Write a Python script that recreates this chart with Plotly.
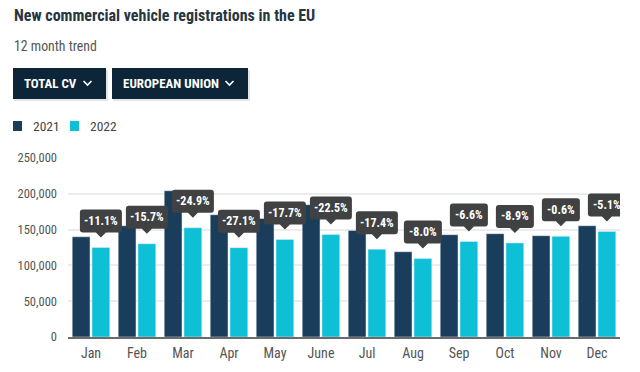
import plotly.graph_objects as go

months = ["Jan", "Feb", "Mar", "Apr", "May", "June", "Jul", "Aug", "Sep", "Oct", "Nov", "Dec"]
reg_2021 = [140000, 155400, 204300, 170800, 165600, 184800, 148900, 119100, 142900, 144300, 141500, 155400]
reg_2022 = [125100, 130300, 152600, 124800, 136300, 143100, 122700, 109500, 133400, 131400, 140600, 147400]
changes = ["-11.1%", "-15.7%", "-24.9%", "-27.1%", "-17.7%", "-22.5%", "-17.4%", "-8.0%", "-6.6%", "-8.9%", "-0.6%", "-5.1%"]
y_ticks = [0, 50000, 100000, 150000, 200000, 250000]

W, H = 640, 372
ML, MR, MT, MB = 68, 20, 158, 35
PW, PH = W - ML - MR, H - MT - MB

C21 = "#1b3d5c"
C22 = "#0ec0d6"
NAVY = "#0c2538"
TIP = "#404142"
FONT = "Roboto Condensed, Roboto, sans-serif"
BARGAP = 0.14


def px(x):
    return (x - ML) / PW


def py(y):
    return (H - MB - y) / PH


fig = go.Figure()
fig.add_trace(go.Bar(name="2021", x=list(range(12)), y=reg_2021, marker_color=C21, hoverinfo="skip"))
fig.add_trace(go.Bar(name="2022", x=list(range(12)), y=reg_2022, marker_color=C22, hoverinfo="skip"))

shapes = []
annotations = []

# tooltips anchored at the top of each 2022 bar
off = (1 - BARGAP) / 4
for i, (v, t) in enumerate(zip(reg_2022, changes)):
    w = 18 + 4 * len(t)
    hw = w / 2
    r = 3
    b, tp, tip = 15, 38, 10
    path = (
        f"M {-hw + r},{b} L -5,{b} L 0,{tip} L 5,{b} L {hw - r},{b} "
        f"Q {hw},{b} {hw},{b + r} L {hw},{tp - r} Q {hw},{tp} {hw - r},{tp} "
        f"L {-hw + r},{tp} Q {-hw},{tp} {-hw},{tp - r} L {-hw},{b + r} Q {-hw},{b} {-hw + r},{b} Z"
    )
    shapes.append(dict(type="path", xref="x", yref="y", xsizemode="pixel", ysizemode="pixel",
                       xanchor=i + off, yanchor=v, path=path, fillcolor=TIP,
                       line=dict(width=0), layer="above"))
    annotations.append(dict(x=i + off, y=v, xref="x", yref="y", text=f"<b>{t}</b>", showarrow=False,
                            yshift=26.5, font=dict(family=FONT, size=12, color="white"),
                            xanchor="center", yanchor="middle"))

# title & subtitle
annotations.append(dict(x=px(12), y=py(15), xref="paper", yref="paper", text="<b>New commercial vehicle registrations in the EU</b>",
                        showarrow=False, xanchor="left", yanchor="middle",
                        font=dict(family=FONT, size=16, color="#263540")))
annotations.append(dict(x=px(12), y=py(46), xref="paper", yref="paper", text="12 month trend",
                        showarrow=False, xanchor="left", yanchor="middle",
                        font=dict(family=FONT, size=13.8, color="#555555")))

# dropdown buttons
buttons = [("TOTAL CV", 13, 106), ("EUROPEAN UNION", 112, 248)]
for label, x0, x1 in buttons:
    shapes.append(dict(type="rect", xref="paper", yref="paper", x0=px(x0 + 1), x1=px(x1 + 2), y0=py(101), y1=py(70),
                       fillcolor="rgba(0,0,0,0.10)", line=dict(width=0), layer="above"))
    shapes.append(dict(type="rect", xref="paper", yref="paper", x0=px(x0), x1=px(x1), y0=py(99), y1=py(68),
                       fillcolor=NAVY, line=dict(width=0), layer="above"))
    annotations.append(dict(x=px(x0 + 8.5), y=py(83), xref="paper", yref="paper", text=f"<b>{label}</b>",
                            showarrow=False, xanchor="left", yanchor="middle",
                            font=dict(family=FONT, size=13, color="white")))
    cx = x1 - 18.5
    shapes.append(dict(type="path", xref="paper", yref="paper",
                       path=f"M {px(cx - 4)},{py(81)} L {px(cx)},{py(85)} L {px(cx + 4)},{py(81)}",
                       line=dict(color="white", width=1.6), layer="above"))

# legend
for (name, col), lx in zip([("2021", C21), ("2022", C22)], [13, 70]):
    shapes.append(dict(type="rect", xref="paper", yref="paper", x0=px(lx), x1=px(lx + 9), y0=py(131), y1=py(121),
                       fillcolor=col, line=dict(width=0), layer="above"))
    annotations.append(dict(x=px(lx + 18), y=py(126), xref="paper", yref="paper", text=name, showarrow=False,
                            xanchor="left", yanchor="middle", font=dict(family=FONT, size=13.5, color="#444444")))

fig.update_layout(
    width=W, height=H,
    margin=dict(l=ML, r=MR, t=MT, b=MB, pad=0),
    paper_bgcolor="white", plot_bgcolor="white",
    barmode="group", bargap=BARGAP, bargroupgap=0.1,
    showlegend=False,
    font=dict(family=FONT, color="#555555", size=12),
    shapes=shapes, annotations=annotations,
    xaxis=dict(tickmode="array", tickvals=list(range(12)), ticktext=months, range=[-0.5, 11.5],
               showline=True, linecolor="#6b6b6b", linewidth=2, showgrid=False, ticks="",
               ticklabelstandoff=2,
               tickfont=dict(size=14, color="#555555"), fixedrange=True),
    yaxis=dict(range=[0, 250000], tickvals=y_ticks, tickformat=",", showgrid=True, gridcolor="#ececec",
               gridwidth=1.5, zeroline=False, ticks="", ticklabelstandoff=10,
               tickfont=dict(size=12.5, color="#555555"), fixedrange=True),
)

fig.write_html("out.html", config={"displayModeBar": False})
